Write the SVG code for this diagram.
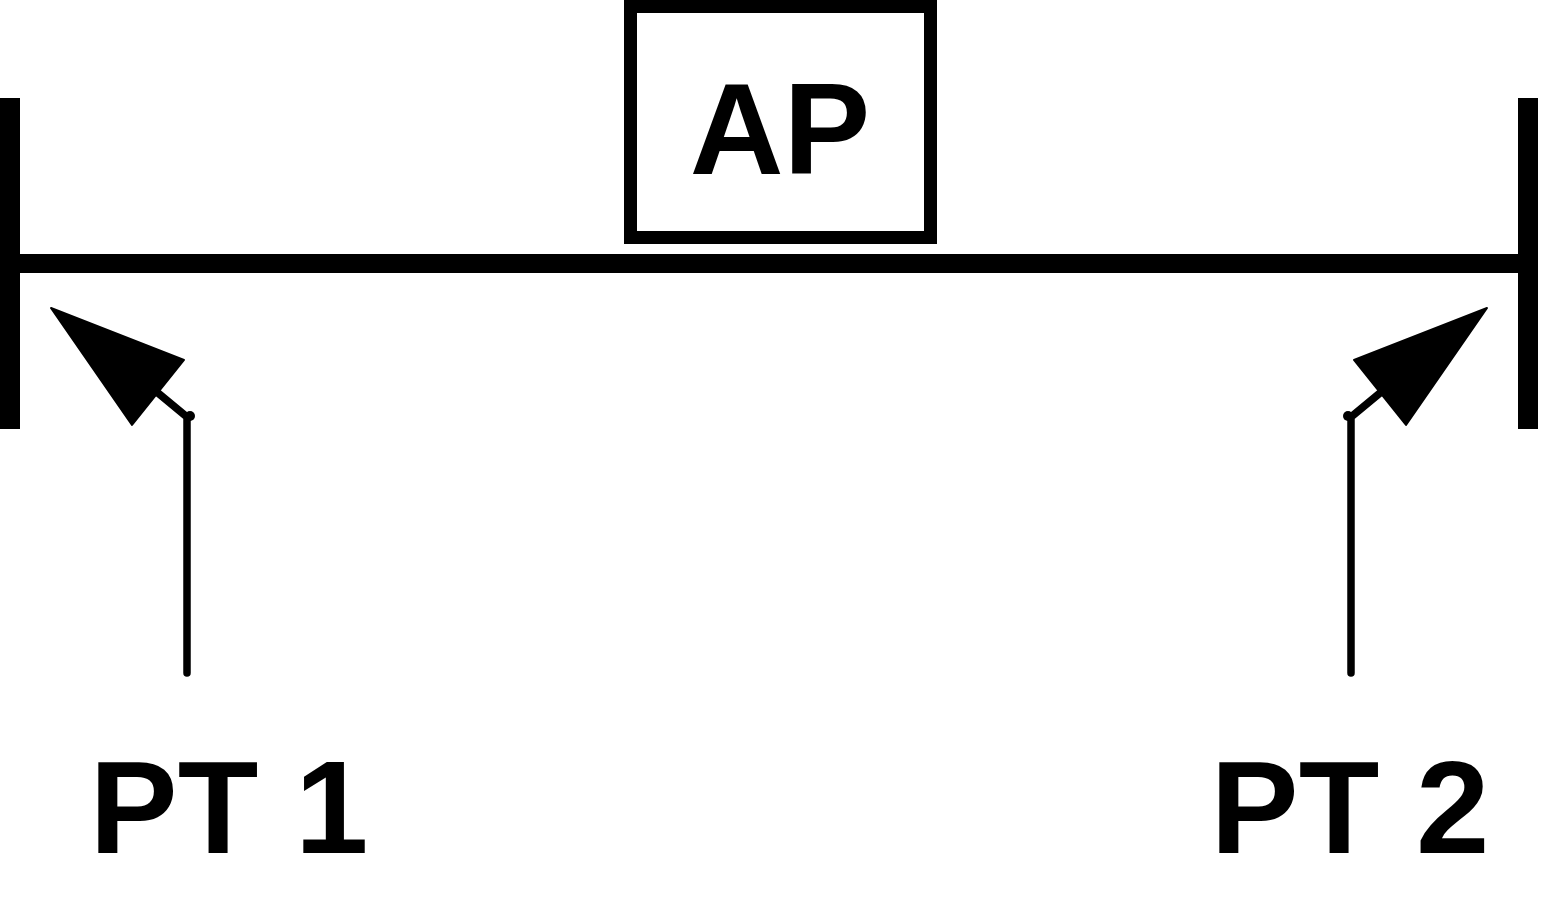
<svg xmlns="http://www.w3.org/2000/svg" width="1560" height="902" viewBox="0 0 1560 902">
<style>
.bar{fill:#000}
.lbl{fill:#000}
.ln{fill:none;stroke:#000;stroke-width:7.5;stroke-linecap:round;stroke-linejoin:round}
.head{fill:#000;stroke:#000;stroke-width:2;stroke-linejoin:round}
</style>
<rect width="1560" height="902" fill="#fff"/>
<g id="bus">
<rect class="bar" x="0" y="98" width="20" height="331"/>
<rect class="bar" x="1518" y="98" width="20" height="331"/>
<rect class="bar" x="0" y="254" width="1538" height="19"/>
</g>
<g id="ap">
<rect x="630.5" y="6.5" width="300" height="231" fill="#fff" stroke="#000" stroke-width="13"/>
<text class="lbl" x="780" y="174" font-family="'Liberation Sans', Arial, Helvetica, sans-serif" font-weight="700" font-size="130" text-anchor="middle">AP</text>
</g>
<g id="connectors">
<polyline class="ln" points="187,673 187,417 158,393"/>
<circle cx="190" cy="416" r="5" fill="#000"/>
<polygon class="head" points="51,308 184,360 132,425"/>
<polyline class="ln" points="1351,673 1351,417 1380,393"/>
<circle cx="1348" cy="416" r="5" fill="#000"/>
<polygon class="head" points="1487,308 1354,360 1406,425"/>
</g>
<g id="pt1">
<text class="lbl" x="229" y="853" font-family="'Liberation Sans', Arial, Helvetica, sans-serif" font-weight="700" font-size="132" text-anchor="middle">PT 1</text>
</g>
<g id="pt2">
<text class="lbl" x="1350" y="853" font-family="'Liberation Sans', Arial, Helvetica, sans-serif" font-weight="700" font-size="132" text-anchor="middle">PT 2</text>
</g>
</svg>
